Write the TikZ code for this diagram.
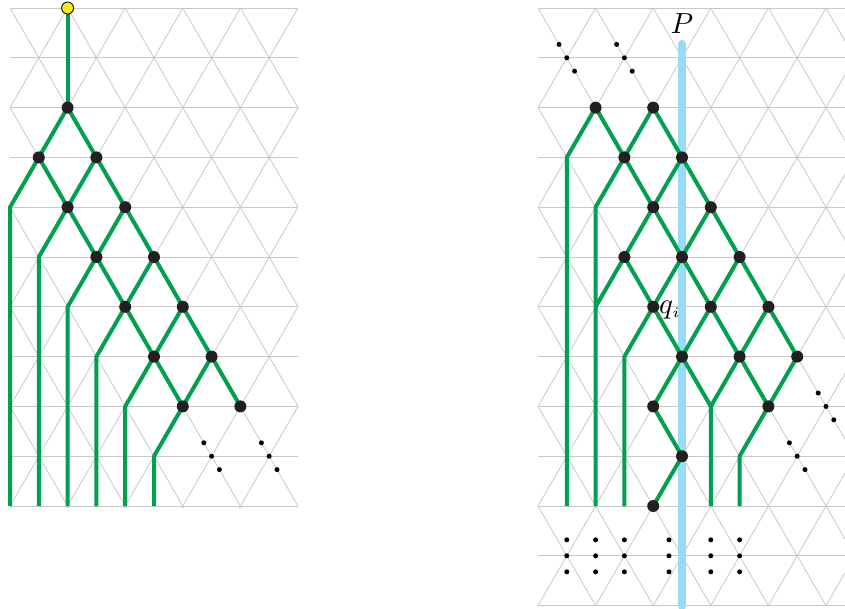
\documentclass[tikz,border=0pt]{standalone}
\usetikzlibrary{calc}
\definecolor{grn}{RGB}{0,160,80}
\definecolor{sky}{RGB}{150,220,245}
\definecolor{dotc}{RGB}{35,31,32}
\definecolor{gridc}{RGB}{200,200,200}
\definecolor{yel}{RGB}{255,232,30}
\begin{document}
\begin{tikzpicture}[x=1pt,y=-1pt,
  gridline/.style={draw=gridc,line width=0.8pt},
  greenpath/.style={draw=grn,line width=4pt,line join=round},
  bigdot/.style={circle,fill=dotc,inner sep=0pt,minimum size=12pt},
  smalldot/.style={circle,fill=black,inner sep=0pt,minimum size=5pt},
  startdot/.style={circle,fill=yel,draw=dotc,line width=1pt,inner sep=0pt,minimum size=12pt},
  probe/.style={draw=sky,line width=8pt,line cap=round},
  lbl/.style={inner sep=0pt}
]
\useasboundingbox (0,0) rectangle (845,608);
\begin{scope}
\clip (0,0) rectangle (845,608);

% lattice coordinates
\foreach \i in {0,...,11}{
  \foreach \k in {0,...,12}{
    \coordinate (L-\i-\k) at ({10+28.8*\i},{8+49.8*\k});
    \coordinate (R-\i-\k) at ({538+28.8*\i},{8+49.8*\k});
  }
}

% left grid
\begin{scope}
\clip (10,7) rectangle (298,507);
\foreach \k in {0,...,10} \draw[gridline] (L-0-\k) -- (L-10-\k);
\foreach \j in {-12,-10,...,24}{
  \draw[gridline] ({10+28.8*\j},8) -- ++(345.6,597.6);
  \draw[gridline] ({10+28.8*\j},8) -- ++(-345.6,597.6);
}
\end{scope}

% right grid
\begin{scope}
\clip (538,7) rectangle (846,607);
\foreach \k in {0,...,12} \draw[gridline] (R-0-\k) -- (R-11-\k);
\foreach \j in {-12,-10,...,24}{
  \draw[gridline] ({538+28.8*\j},8) -- ++(345.6,597.6);
  \draw[gridline] ({538+28.8*\j},8) -- ++(-345.6,597.6);
}
\end{scope}

% probe line
\coordinate (Ptop) at (682,44);
\coordinate (Pbot) at (682,606);
\draw[probe] (Ptop) -- (Pbot);

% left green paths
\draw[greenpath] (L-2-0) -- (L-2-2);
\draw[greenpath] (L-2-2) -- (L-3-3) -- (L-4-4) -- (L-5-5) -- (L-6-6) -- (L-7-7) -- (L-8-8);
\draw[greenpath] (L-1-3) -- (L-2-4) -- (L-3-5) -- (L-4-6) -- (L-5-7) -- (L-6-8);
\draw[greenpath] (L-2-2) -- (L-1-3) -- (L-0-4) -- (L-0-10);
\draw[greenpath] (L-3-3) -- (L-2-4) -- (L-1-5) -- (L-1-10);
\draw[greenpath] (L-4-4) -- (L-3-5) -- (L-2-6) -- (L-2-10);
\draw[greenpath] (L-5-5) -- (L-4-6) -- (L-3-7) -- (L-3-10);
\draw[greenpath] (L-6-6) -- (L-5-7) -- (L-4-8) -- (L-4-10);
\draw[greenpath] (L-7-7) -- (L-6-8) -- (L-5-9) -- (L-5-10);

% right green paths
\draw[greenpath] (R-2-2) -- (R-3-3) -- (R-4-4) -- (R-5-5) -- (R-6-6) -- (R-7-7) -- (R-8-8);
\draw[greenpath] (R-4-2) -- (R-5-3) -- (R-6-4) -- (R-7-5) -- (R-8-6) -- (R-9-7);
\draw[greenpath] (R-3-5) -- (R-4-6) -- (R-5-7) -- (R-6-8);
\draw[greenpath] (R-4-8) -- (R-5-9) -- (R-4-10);
\draw[greenpath] (R-2-2) -- (R-1-3) -- (R-1-10);
\draw[greenpath] (R-4-2) -- (R-3-3) -- (R-2-4) -- (R-2-10);
\draw[greenpath] (R-5-3) -- (R-4-4) -- (R-3-5) -- (R-2-6);
\draw[greenpath] (R-6-4) -- (R-5-5) -- (R-4-6) -- (R-3-7) -- (R-3-10);
\draw[greenpath] (R-7-5) -- (R-6-6) -- (R-5-7) -- (R-4-8);
\draw[greenpath] (R-8-6) -- (R-7-7) -- (R-6-8) -- (R-6-10);
\draw[greenpath] (R-9-7) -- (R-8-8) -- (R-7-9) -- (R-7-10);

% left dots
\node[startdot] (start) at (L-2-0) {};
\foreach \i/\k in {2/2,1/3,3/3,2/4,4/4,3/5,5/5,4/6,6/6,5/7,7/7,6/8,8/8}{
  \node[bigdot] (ln-\i-\k) at (L-\i-\k) {};
}
% right dots
\foreach \i/\k in {2/2,4/2,3/3,5/3,4/4,6/4,3/5,5/5,7/5,4/6,6/6,8/6,5/7,7/7,9/7,4/8,8/8,5/9,4/10}{
  \node[bigdot] (rn-\i-\k) at (R-\i-\k) {};
}

% small dot ellipses along diagonals
\foreach \c [count=\n] in {L-7-9,L-9-9,R-1-1,R-3-1,R-10-8,R-9-9}{
  \node[smalldot] (dgA\n) at ($(\c)+(-7.8,-13.4)$) {};
  \node[smalldot] (dgB\n) at (\c) {};
  \node[smalldot] (dgC\n) at ($(\c)+(7.8,13.4)$) {};
}
% vertical ellipses at bottom
\foreach \x [count=\n] in {566.8,595.6,624.4,669,710.8,739.6}{
  \node[smalldot] (vA\n) at (\x,539.8) {};
  \node[smalldot] (vB\n) at (\x,555.8) {};
  \node[smalldot] (vC\n) at (\x,571.8) {};
}

% labels
\node[lbl,anchor=base] (Plabel) at (682,33) {\scalebox{2.9}{$P$}};
\node[lbl,anchor=base west] (qlabel) at (659,313) {\scalebox{2.9}{$q_{\scriptscriptstyle i}$}};
\end{scope}
\end{tikzpicture}
\end{document}
